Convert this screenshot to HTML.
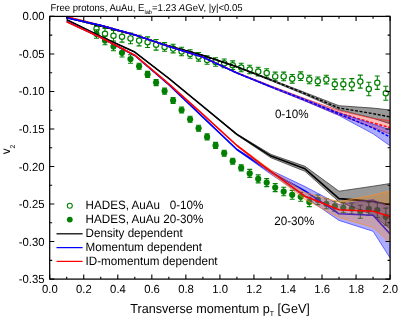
<!DOCTYPE html>
<html><head><meta charset="utf-8"><style>
html,body{margin:0;padding:0;background:#fff;}
svg{display:block;}
text{font-family:"Liberation Sans",sans-serif;fill:#000;text-rendering:geometricPrecision;}

html{-webkit-font-smoothing:antialiased;}
svg{will-change:transform;}
.t{font-size:11.3px;}
.l{font-size:11.65px;}
.ti{font-size:9.55px;}
.sub{font-size:5.7px;}
.sub2{font-size:7px;}.sub3{font-size:6.7px;}
.xl{font-size:12.6px;}
.yl{font-size:11.8px;}
</style></head><body>
<svg width="415" height="321" viewBox="0 0 415 321">
<defs><clipPath id="c"><rect x="49.7" y="16.4" width="340.4" height="262.7"/></clipPath></defs>
<rect width="415" height="321" fill="#fff"/>
<g clip-path="url(#c)">
<path d="M96.5 25.5V31.9M94.0 25.5h5M94.0 31.9h5" stroke="#008000" stroke-width="1.1" fill="none"/>
<circle cx="96.5" cy="28.7" r="2.65" fill="#fff" stroke="#008000" stroke-width="1.2"/>
<path d="M105.0 28.5V39.1M102.5 28.5h5M102.5 39.1h5" stroke="#008000" stroke-width="1.1" fill="none"/>
<circle cx="105.0" cy="33.8" r="2.65" fill="#fff" stroke="#008000" stroke-width="1.2"/>
<path d="M113.5 30.4V41.0M111.0 30.4h5M111.0 41.0h5" stroke="#008000" stroke-width="1.1" fill="none"/>
<circle cx="113.5" cy="35.7" r="2.65" fill="#fff" stroke="#008000" stroke-width="1.2"/>
<path d="M122.0 31.5V42.1M119.5 31.5h5M119.5 42.1h5" stroke="#008000" stroke-width="1.1" fill="none"/>
<circle cx="122.0" cy="36.8" r="2.65" fill="#fff" stroke="#008000" stroke-width="1.2"/>
<path d="M130.5 33.1V43.7M128.0 33.1h5M128.0 43.7h5" stroke="#008000" stroke-width="1.1" fill="none"/>
<circle cx="130.5" cy="38.4" r="2.65" fill="#fff" stroke="#008000" stroke-width="1.2"/>
<path d="M139.1 35.3V45.9M136.6 35.3h5M136.6 45.9h5" stroke="#008000" stroke-width="1.1" fill="none"/>
<circle cx="139.1" cy="40.6" r="2.65" fill="#fff" stroke="#008000" stroke-width="1.2"/>
<path d="M147.6 36.9V47.5M145.1 36.9h5M145.1 47.5h5" stroke="#008000" stroke-width="1.1" fill="none"/>
<circle cx="147.6" cy="42.2" r="2.65" fill="#fff" stroke="#008000" stroke-width="1.2"/>
<path d="M156.1 39.5V50.1M153.6 39.5h5M153.6 50.1h5" stroke="#008000" stroke-width="1.1" fill="none"/>
<circle cx="156.1" cy="44.8" r="2.65" fill="#fff" stroke="#008000" stroke-width="1.2"/>
<path d="M164.6 42.6V51.2M162.1 42.6h5M162.1 51.2h5" stroke="#008000" stroke-width="1.1" fill="none"/>
<circle cx="164.6" cy="46.9" r="2.65" fill="#fff" stroke="#008000" stroke-width="1.2"/>
<path d="M173.1 44.3V52.9M170.6 44.3h5M170.6 52.9h5" stroke="#008000" stroke-width="1.1" fill="none"/>
<circle cx="173.1" cy="48.6" r="2.65" fill="#fff" stroke="#008000" stroke-width="1.2"/>
<path d="M181.6 47.2V55.8M179.1 47.2h5M179.1 55.8h5" stroke="#008000" stroke-width="1.1" fill="none"/>
<circle cx="181.6" cy="51.5" r="2.65" fill="#fff" stroke="#008000" stroke-width="1.2"/>
<path d="M190.1 49.7V58.3M187.6 49.7h5M187.6 58.3h5" stroke="#008000" stroke-width="1.1" fill="none"/>
<circle cx="190.1" cy="54.0" r="2.65" fill="#fff" stroke="#008000" stroke-width="1.2"/>
<path d="M198.6 52.5V61.1M196.1 52.5h5M196.1 61.1h5" stroke="#008000" stroke-width="1.1" fill="none"/>
<circle cx="198.6" cy="56.8" r="2.65" fill="#fff" stroke="#008000" stroke-width="1.2"/>
<path d="M207.1 55.7V64.3M204.6 55.7h5M204.6 64.3h5" stroke="#008000" stroke-width="1.1" fill="none"/>
<circle cx="207.1" cy="60.0" r="2.65" fill="#fff" stroke="#008000" stroke-width="1.2"/>
<path d="M215.6 57.7V66.3M213.1 57.7h5M213.1 66.3h5" stroke="#008000" stroke-width="1.1" fill="none"/>
<circle cx="215.6" cy="62.0" r="2.65" fill="#fff" stroke="#008000" stroke-width="1.2"/>
<path d="M224.2 59.0V67.6M221.7 59.0h5M221.7 67.6h5" stroke="#008000" stroke-width="1.1" fill="none"/>
<circle cx="224.2" cy="63.3" r="2.65" fill="#fff" stroke="#008000" stroke-width="1.2"/>
<path d="M232.7 60.9V69.5M230.2 60.9h5M230.2 69.5h5" stroke="#008000" stroke-width="1.1" fill="none"/>
<circle cx="232.7" cy="65.2" r="2.65" fill="#fff" stroke="#008000" stroke-width="1.2"/>
<path d="M241.2 63.2V71.8M238.7 63.2h5M238.7 71.8h5" stroke="#008000" stroke-width="1.1" fill="none"/>
<circle cx="241.2" cy="67.5" r="2.65" fill="#fff" stroke="#008000" stroke-width="1.2"/>
<path d="M249.7 65.2V73.8M247.2 65.2h5M247.2 73.8h5" stroke="#008000" stroke-width="1.1" fill="none"/>
<circle cx="249.7" cy="69.5" r="2.65" fill="#fff" stroke="#008000" stroke-width="1.2"/>
<path d="M258.2 67.3V75.9M255.7 67.3h5M255.7 75.9h5" stroke="#008000" stroke-width="1.1" fill="none"/>
<circle cx="258.2" cy="71.6" r="2.65" fill="#fff" stroke="#008000" stroke-width="1.2"/>
<path d="M266.7 68.7V77.3M264.2 68.7h5M264.2 77.3h5" stroke="#008000" stroke-width="1.1" fill="none"/>
<circle cx="266.7" cy="73.0" r="2.65" fill="#fff" stroke="#008000" stroke-width="1.2"/>
<path d="M275.2 72.1V80.7M272.7 72.1h5M272.7 80.7h5" stroke="#008000" stroke-width="1.1" fill="none"/>
<circle cx="275.2" cy="76.4" r="2.65" fill="#fff" stroke="#008000" stroke-width="1.2"/>
<path d="M283.7 72.1V80.7M281.2 72.1h5M281.2 80.7h5" stroke="#008000" stroke-width="1.1" fill="none"/>
<circle cx="283.7" cy="76.4" r="2.65" fill="#fff" stroke="#008000" stroke-width="1.2"/>
<path d="M292.2 74.5V83.1M289.7 74.5h5M289.7 83.1h5" stroke="#008000" stroke-width="1.1" fill="none"/>
<circle cx="292.2" cy="78.8" r="2.65" fill="#fff" stroke="#008000" stroke-width="1.2"/>
<path d="M300.7 71.9V80.5M298.2 71.9h5M298.2 80.5h5" stroke="#008000" stroke-width="1.1" fill="none"/>
<circle cx="300.7" cy="76.2" r="2.65" fill="#fff" stroke="#008000" stroke-width="1.2"/>
<path d="M309.3 75.2V83.8M306.8 75.2h5M306.8 83.8h5" stroke="#008000" stroke-width="1.1" fill="none"/>
<circle cx="309.3" cy="79.5" r="2.65" fill="#fff" stroke="#008000" stroke-width="1.2"/>
<path d="M317.8 77.0V85.6M315.3 77.0h5M315.3 85.6h5" stroke="#008000" stroke-width="1.1" fill="none"/>
<circle cx="317.8" cy="81.3" r="2.65" fill="#fff" stroke="#008000" stroke-width="1.2"/>
<path d="M326.3 75.3V83.9M323.8 75.3h5M323.8 83.9h5" stroke="#008000" stroke-width="1.1" fill="none"/>
<circle cx="326.3" cy="79.6" r="2.65" fill="#fff" stroke="#008000" stroke-width="1.2"/>
<path d="M334.8 79.1V89.5M332.3 79.1h5M332.3 89.5h5" stroke="#008000" stroke-width="1.1" fill="none"/>
<circle cx="334.8" cy="84.3" r="2.65" fill="#fff" stroke="#008000" stroke-width="1.2"/>
<path d="M343.3 78.8V89.8M340.8 78.8h5M340.8 89.8h5" stroke="#008000" stroke-width="1.1" fill="none"/>
<circle cx="343.3" cy="84.3" r="2.65" fill="#fff" stroke="#008000" stroke-width="1.2"/>
<path d="M351.8 78.6V90.6M349.3 78.6h5M349.3 90.6h5" stroke="#008000" stroke-width="1.1" fill="none"/>
<circle cx="351.8" cy="84.6" r="2.65" fill="#fff" stroke="#008000" stroke-width="1.2"/>
<path d="M360.3 75.1V88.1M357.8 75.1h5M357.8 88.1h5" stroke="#008000" stroke-width="1.1" fill="none"/>
<circle cx="360.3" cy="81.6" r="2.65" fill="#fff" stroke="#008000" stroke-width="1.2"/>
<path d="M368.8 82.3V95.7M366.3 82.3h5M366.3 95.7h5" stroke="#008000" stroke-width="1.1" fill="none"/>
<circle cx="368.8" cy="89.0" r="2.65" fill="#fff" stroke="#008000" stroke-width="1.2"/>
<path d="M377.3 76.0V89.4M374.8 76.0h5M374.8 89.4h5" stroke="#008000" stroke-width="1.1" fill="none"/>
<circle cx="377.3" cy="82.7" r="2.65" fill="#fff" stroke="#008000" stroke-width="1.2"/>
<path d="M385.8 86.2V100.2M383.3 86.2h5M383.3 100.2h5" stroke="#008000" stroke-width="1.1" fill="none"/>
<circle cx="385.8" cy="93.2" r="2.65" fill="#fff" stroke="#008000" stroke-width="1.2"/>
<path d="M96.5 29.8V38.2M94.0 29.8h5M94.0 38.2h5" stroke="#008000" stroke-width="1.1" fill="none"/>
<circle cx="96.5" cy="34.0" r="3.1" fill="#008000"/>
<path d="M105.0 36.3V44.7M102.5 36.3h5M102.5 44.7h5" stroke="#008000" stroke-width="1.1" fill="none"/>
<circle cx="105.0" cy="40.5" r="3.1" fill="#008000"/>
<path d="M113.5 42.3V50.7M111.0 42.3h5M111.0 50.7h5" stroke="#008000" stroke-width="1.1" fill="none"/>
<circle cx="113.5" cy="46.5" r="3.1" fill="#008000"/>
<path d="M122.0 48.6V57.0M119.5 48.6h5M119.5 57.0h5" stroke="#008000" stroke-width="1.1" fill="none"/>
<circle cx="122.0" cy="52.8" r="3.1" fill="#008000"/>
<path d="M130.5 54.8V63.2M128.0 54.8h5M128.0 63.2h5" stroke="#008000" stroke-width="1.1" fill="none"/>
<circle cx="130.5" cy="59.0" r="3.1" fill="#008000"/>
<path d="M139.1 63.3V69.3M136.6 63.3h5M136.6 69.3h5" stroke="#008000" stroke-width="1.1" fill="none"/>
<circle cx="139.1" cy="66.3" r="3.1" fill="#008000"/>
<path d="M147.6 71.4V77.4M145.1 71.4h5M145.1 77.4h5" stroke="#008000" stroke-width="1.1" fill="none"/>
<circle cx="147.6" cy="74.4" r="3.1" fill="#008000"/>
<path d="M156.1 79.6V85.6M153.6 79.6h5M153.6 85.6h5" stroke="#008000" stroke-width="1.1" fill="none"/>
<circle cx="156.1" cy="82.6" r="3.1" fill="#008000"/>
<path d="M164.6 88.1V94.1M162.1 88.1h5M162.1 94.1h5" stroke="#008000" stroke-width="1.1" fill="none"/>
<circle cx="164.6" cy="91.1" r="3.1" fill="#008000"/>
<path d="M173.1 97.5V103.5M170.6 97.5h5M170.6 103.5h5" stroke="#008000" stroke-width="1.1" fill="none"/>
<circle cx="173.1" cy="100.5" r="3.1" fill="#008000"/>
<path d="M181.6 107.0V113.0M179.1 107.0h5M179.1 113.0h5" stroke="#008000" stroke-width="1.1" fill="none"/>
<circle cx="181.6" cy="110.0" r="3.1" fill="#008000"/>
<path d="M190.1 116.3V122.3M187.6 116.3h5M187.6 122.3h5" stroke="#008000" stroke-width="1.1" fill="none"/>
<circle cx="190.1" cy="119.3" r="3.1" fill="#008000"/>
<path d="M198.6 125.3V131.3M196.1 125.3h5M196.1 131.3h5" stroke="#008000" stroke-width="1.1" fill="none"/>
<circle cx="198.6" cy="128.3" r="3.1" fill="#008000"/>
<path d="M207.1 133.9V139.9M204.6 133.9h5M204.6 139.9h5" stroke="#008000" stroke-width="1.1" fill="none"/>
<circle cx="207.1" cy="136.9" r="3.1" fill="#008000"/>
<path d="M215.6 142.4V148.4M213.1 142.4h5M213.1 148.4h5" stroke="#008000" stroke-width="1.1" fill="none"/>
<circle cx="215.6" cy="145.4" r="3.1" fill="#008000"/>
<path d="M224.2 150.2V156.2M221.7 150.2h5M221.7 156.2h5" stroke="#008000" stroke-width="1.1" fill="none"/>
<circle cx="224.2" cy="153.2" r="3.1" fill="#008000"/>
<path d="M232.7 158.2V164.2M230.2 158.2h5M230.2 164.2h5" stroke="#008000" stroke-width="1.1" fill="none"/>
<circle cx="232.7" cy="161.2" r="3.1" fill="#008000"/>
<path d="M241.2 164.9V170.9M238.7 164.9h5M238.7 170.9h5" stroke="#008000" stroke-width="1.1" fill="none"/>
<circle cx="241.2" cy="167.9" r="3.1" fill="#008000"/>
<path d="M249.7 169.4V177.4M247.2 169.4h5M247.2 177.4h5" stroke="#008000" stroke-width="1.1" fill="none"/>
<circle cx="249.7" cy="173.4" r="3.1" fill="#008000"/>
<path d="M258.2 174.9V182.9M255.7 174.9h5M255.7 182.9h5" stroke="#008000" stroke-width="1.1" fill="none"/>
<circle cx="258.2" cy="178.9" r="3.1" fill="#008000"/>
<path d="M266.7 178.6V186.6M264.2 178.6h5M264.2 186.6h5" stroke="#008000" stroke-width="1.1" fill="none"/>
<circle cx="266.7" cy="182.6" r="3.1" fill="#008000"/>
<path d="M275.2 183.6V191.6M272.7 183.6h5M272.7 191.6h5" stroke="#008000" stroke-width="1.1" fill="none"/>
<circle cx="275.2" cy="187.6" r="3.1" fill="#008000"/>
<path d="M283.7 187.3V195.7M281.2 187.3h5M281.2 195.7h5" stroke="#008000" stroke-width="1.1" fill="none"/>
<circle cx="283.7" cy="191.5" r="3.1" fill="#008000"/>
<path d="M292.2 190.4V199.2M289.7 190.4h5M289.7 199.2h5" stroke="#008000" stroke-width="1.1" fill="none"/>
<circle cx="292.2" cy="194.8" r="3.1" fill="#008000"/>
<path d="M300.7 192.4V201.2M298.2 192.4h5M298.2 201.2h5" stroke="#008000" stroke-width="1.1" fill="none"/>
<circle cx="300.7" cy="196.8" r="3.1" fill="#008000"/>
<path d="M309.3 197.2V206.6M306.8 197.2h5M306.8 206.6h5" stroke="#008000" stroke-width="1.1" fill="none"/>
<circle cx="309.3" cy="201.9" r="3.1" fill="#008000"/>
<path d="M317.8 195.0V204.6M315.3 195.0h5M315.3 204.6h5" stroke="#008000" stroke-width="1.1" fill="none"/>
<circle cx="317.8" cy="199.8" r="3.1" fill="#008000"/>
<path d="M326.3 198.8V208.8M323.8 198.8h5M323.8 208.8h5" stroke="#008000" stroke-width="1.1" fill="none"/>
<circle cx="326.3" cy="203.8" r="3.1" fill="#008000"/>
<path d="M334.8 201.2V211.2M332.3 201.2h5M332.3 211.2h5" stroke="#008000" stroke-width="1.1" fill="none"/>
<circle cx="334.8" cy="206.2" r="3.1" fill="#008000"/>
<path d="M343.3 202.8V212.8M340.8 202.8h5M340.8 212.8h5" stroke="#008000" stroke-width="1.1" fill="none"/>
<circle cx="343.3" cy="207.8" r="3.1" fill="#008000"/>
<path d="M351.8 203.0V214.0M349.3 203.0h5M349.3 214.0h5" stroke="#008000" stroke-width="1.1" fill="none"/>
<circle cx="351.8" cy="208.5" r="3.1" fill="#008000"/>
<path d="M360.3 205.3V218.3M357.8 205.3h5M357.8 218.3h5" stroke="#008000" stroke-width="1.1" fill="none"/>
<circle cx="360.3" cy="211.8" r="3.1" fill="#008000"/>
<path d="M368.8 202.1V215.5M366.3 202.1h5M366.3 215.5h5" stroke="#008000" stroke-width="1.1" fill="none"/>
<circle cx="368.8" cy="208.8" r="3.1" fill="#008000"/>
<path d="M377.3 202.7V217.5M374.8 202.7h5M374.8 217.5h5" stroke="#008000" stroke-width="1.1" fill="none"/>
<circle cx="377.3" cy="210.1" r="3.1" fill="#008000"/>
<path d="M385.8 208.1V225.3M383.3 208.1h5M383.3 225.3h5" stroke="#008000" stroke-width="1.1" fill="none"/>
<circle cx="385.8" cy="216.7" r="3.1" fill="#008000"/>
<polygon points="66.7,17.2 100.8,25.7 134.8,34.7 168.8,45.7 202.9,55.0 236.9,66.3 271.0,79.3 305.0,92.5 339.0,105.7 373.1,108.1 390.1,110.0 390.1,123.8 373.1,118.2 339.0,109.8 305.0,94.7 271.0,80.7 236.9,67.3 202.9,55.6 168.8,46.3 134.8,35.3 100.8,26.3 66.7,17.8" fill="rgba(0,0,0,0.40)" stroke="#1a1a1a" stroke-width="0.65" stroke-linejoin="round"/>
<polyline points="66.7,17.5 100.8,26.0 134.8,35.0 168.8,46.0 202.9,55.3 236.9,66.8" fill="none" stroke="#000" stroke-width="1.3"/><polyline points="236.9,66.8 271.0,80.0" fill="none" stroke="#000" stroke-width="0.8"/>
<polyline points="66.7,17.5 100.8,26.0 134.8,35.0 168.8,46.0 202.9,55.3 236.9,66.8 271.0,80.0 305.0,93.6 339.0,108.0 373.1,113.6 390.1,117.0" fill="none" stroke="#000" stroke-width="1.45" stroke-dasharray="3 1.6" stroke-linejoin="round"/>
<polygon points="66.7,16.6 100.8,25.0 134.8,34.5 168.8,46.2 202.9,56.9 236.9,72.4 271.0,85.9 305.0,98.6 339.0,110.6 373.1,118.5 390.1,120.5 390.1,134.0 373.1,127.5 339.0,115.0 305.0,101.0 271.0,87.3 236.9,73.2 202.9,57.5 168.8,46.8 134.8,35.1 100.8,25.6 66.7,17.2" fill="rgba(255,0,0,0.27)" stroke="#ff2020" stroke-width="0.65" stroke-linejoin="round"/>
<polyline points="66.7,16.9 100.8,25.3 134.8,34.8 168.8,46.5 202.9,57.2 236.9,72.8" fill="none" stroke="#ff0000" stroke-width="1.3"/><polyline points="236.9,72.8 271.0,86.6" fill="none" stroke="#ff0000" stroke-width="0.8"/>
<polyline points="66.7,16.9 100.8,25.3 134.8,34.8 168.8,46.5 202.9,57.2 236.9,72.8 271.0,86.6 305.0,99.8 339.0,112.9 373.1,123.1 390.1,127.5" fill="none" stroke="#ff0000" stroke-width="1.45" stroke-dasharray="3 1.6" stroke-linejoin="round"/>
<polygon points="66.7,17.6 100.8,25.0 134.8,34.5 168.8,46.2 202.9,56.9 236.9,72.6 271.0,86.2 305.0,99.2 339.0,112.8 373.1,124.2 390.1,129.8 390.1,145.8 373.1,133.8 339.0,115.5 305.0,101.0 271.0,87.4 236.9,73.4 202.9,57.5 168.8,46.8 134.8,35.1 100.8,25.6 66.7,18.2" fill="rgba(0,0,255,0.32)" stroke="#2828ff" stroke-width="0.65" stroke-linejoin="round"/>
<polyline points="66.7,17.9 100.8,25.3 134.8,34.8 168.8,46.5 202.9,57.2 236.9,73.0" fill="none" stroke="#0000ff" stroke-width="1.3"/><polyline points="236.9,73.0 271.0,86.8" fill="none" stroke="#0000ff" stroke-width="0.8"/>
<polyline points="66.7,17.9 100.8,25.3 134.8,34.8 168.8,46.5 202.9,57.2 236.9,73.0 271.0,86.8 305.0,100.0 339.0,113.9 373.1,128.1 390.1,137.0" fill="none" stroke="#0000ff" stroke-width="1.45" stroke-dasharray="3 1.6" stroke-linejoin="round"/>
<polygon points="66.7,19.7 100.8,36.4 134.8,52.1 168.8,78.3 202.9,106.2 236.9,133.9 271.0,154.4 305.0,166.3 339.0,191.2 373.1,186.2 390.1,183.5 390.1,229.0 373.1,215.0 339.0,201.8 305.0,171.3 271.0,157.8 236.9,134.9 202.9,106.6 168.8,78.3 134.8,52.1 100.8,36.4 66.7,19.7" fill="rgba(0,0,0,0.40)" stroke="#1a1a1a" stroke-width="0.65" stroke-linejoin="round"/>
<polyline points="66.7,19.7 100.8,36.4 134.8,52.1 168.8,78.3 202.9,106.4 236.9,134.4 271.0,156.1 305.0,168.8 339.0,198.6 373.1,201.4 390.1,205.0" fill="none" stroke="#000" stroke-width="1.6" stroke-linejoin="round"/>
<polygon points="66.7,21.5 100.8,37.5 134.8,55.5 168.8,84.6 202.9,116.8 236.9,149.0 271.0,170.3 305.0,186.6 339.0,204.5 373.1,199.5 390.1,207.8 390.1,258.0 373.1,231.3 339.0,220.4 305.0,197.0 271.0,174.3 236.9,150.0 202.9,117.6 168.8,84.6 134.8,55.5 100.8,37.5 66.7,21.5" fill="rgba(0,0,255,0.32)" stroke="#2828ff" stroke-width="0.65" stroke-linejoin="round"/>
<polyline points="66.7,21.5 100.8,37.5 134.8,55.5 168.8,84.6 202.9,117.2 236.9,149.5 271.0,172.3 305.0,191.0 339.0,213.8 373.1,215.3 390.1,234.0" fill="none" stroke="#0000ff" stroke-width="1.6" stroke-linejoin="round"/>
<polygon points="66.7,21.7 100.8,37.5 134.8,55.2 168.8,83.8 202.9,114.0 236.9,145.0 271.0,170.0 305.0,192.5 339.0,201.8 373.1,195.0 390.1,191.0 390.1,243.0 373.1,227.4 339.0,217.5 305.0,199.5 271.0,173.4 236.9,146.0 202.9,114.6 168.8,83.8 134.8,55.2 100.8,37.5 66.7,21.7" fill="rgba(255,128,0,0.30)" stroke="#ff9020" stroke-width="0.65" stroke-linejoin="round"/>
<polyline points="66.7,21.7 100.8,37.5 134.8,55.2 168.8,83.8 202.9,114.3 236.9,145.5 271.0,171.6 305.0,196.2 339.0,209.7 373.1,211.3 390.1,216.6" fill="none" stroke="#ff0000" stroke-width="1.6" stroke-linejoin="round"/>
</g>
<path d="M49.70 279.1v-4.5 M49.70 16.4v4.5 M66.72 279.1v-2.4 M66.72 16.4v2.4 M83.74 279.1v-4.5 M83.74 16.4v4.5 M100.76 279.1v-2.4 M100.76 16.4v2.4 M117.78 279.1v-4.5 M117.78 16.4v4.5 M134.80 279.1v-2.4 M134.80 16.4v2.4 M151.82 279.1v-4.5 M151.82 16.4v4.5 M168.84 279.1v-2.4 M168.84 16.4v2.4 M185.86 279.1v-4.5 M185.86 16.4v4.5 M202.88 279.1v-2.4 M202.88 16.4v2.4 M219.90 279.1v-4.5 M219.90 16.4v4.5 M236.92 279.1v-2.4 M236.92 16.4v2.4 M253.94 279.1v-4.5 M253.94 16.4v4.5 M270.96 279.1v-2.4 M270.96 16.4v2.4 M287.98 279.1v-4.5 M287.98 16.4v4.5 M305.00 279.1v-2.4 M305.00 16.4v2.4 M322.02 279.1v-4.5 M322.02 16.4v4.5 M339.04 279.1v-2.4 M339.04 16.4v2.4 M356.06 279.1v-4.5 M356.06 16.4v4.5 M373.08 279.1v-2.4 M373.08 16.4v2.4 M390.10 279.1v-4.5 M390.10 16.4v4.5 M49.7 16.40h4.6 M390.1 16.40h-4.6 M49.7 35.16h2.5 M390.1 35.16h-2.5 M49.7 53.93h4.6 M390.1 53.93h-4.6 M49.7 72.69h2.5 M390.1 72.69h-2.5 M49.7 91.46h4.6 M390.1 91.46h-4.6 M49.7 110.22h2.5 M390.1 110.22h-2.5 M49.7 128.99h4.6 M390.1 128.99h-4.6 M49.7 147.75h2.5 M390.1 147.75h-2.5 M49.7 166.51h4.6 M390.1 166.51h-4.6 M49.7 185.28h2.5 M390.1 185.28h-2.5 M49.7 204.04h4.6 M390.1 204.04h-4.6 M49.7 222.81h2.5 M390.1 222.81h-2.5 M49.7 241.57h4.6 M390.1 241.57h-4.6 M49.7 260.34h2.5 M390.1 260.34h-2.5 M49.7 279.10h4.6 M390.1 279.10h-4.6" stroke="#000" stroke-width="1.1" fill="none"/>
<rect x="49.7" y="16.4" width="340.4" height="262.7" fill="none" stroke="#000" stroke-width="1.25"/>
<g class="tx">
<text transform="translate(49.90,293.00) scale(1,1.04)" text-anchor="middle" class="t">0.0</text>
<text transform="translate(83.94,293.00) scale(1,1.04)" text-anchor="middle" class="t">0.2</text>
<text transform="translate(117.98,293.00) scale(1,1.04)" text-anchor="middle" class="t">0.4</text>
<text transform="translate(152.02,293.00) scale(1,1.04)" text-anchor="middle" class="t">0.6</text>
<text transform="translate(186.06,293.00) scale(1,1.04)" text-anchor="middle" class="t">0.8</text>
<text transform="translate(220.10,293.00) scale(1,1.04)" text-anchor="middle" class="t">1.0</text>
<text transform="translate(254.14,293.00) scale(1,1.04)" text-anchor="middle" class="t">1.2</text>
<text transform="translate(288.18,293.00) scale(1,1.04)" text-anchor="middle" class="t">1.4</text>
<text transform="translate(322.22,293.00) scale(1,1.04)" text-anchor="middle" class="t">1.6</text>
<text transform="translate(356.26,293.00) scale(1,1.04)" text-anchor="middle" class="t">1.8</text>
<text transform="translate(390.30,293.00) scale(1,1.04)" text-anchor="middle" class="t">2.0</text>
<text transform="translate(44.50,20.40) scale(1,1.04)" text-anchor="end" class="t">0.00</text>
<text transform="translate(44.50,57.93) scale(1,1.04)" text-anchor="end" class="t">-0.05</text>
<text transform="translate(44.50,95.46) scale(1,1.04)" text-anchor="end" class="t">-0.10</text>
<text transform="translate(44.50,132.99) scale(1,1.04)" text-anchor="end" class="t">-0.15</text>
<text transform="translate(44.50,170.51) scale(1,1.04)" text-anchor="end" class="t">-0.20</text>
<text transform="translate(44.50,208.04) scale(1,1.04)" text-anchor="end" class="t">-0.25</text>
<text transform="translate(44.50,245.57) scale(1,1.04)" text-anchor="end" class="t">-0.30</text>
<text transform="translate(44.50,283.10) scale(1,1.04)" text-anchor="end" class="t">-0.35</text>
<circle cx="69.8" cy="205.8" r="2.5" fill="#fff" stroke="#008000" stroke-width="1.1"/>
<circle cx="69.8" cy="219.6" r="2.9" fill="#008000"/>
<path d="M56.5 233.8H82.6" stroke="#000" stroke-width="1.25"/>
<path d="M56.5 247.6H82.6" stroke="#0000ff" stroke-width="1.25"/>
<path d="M56.5 261.4H82.6" stroke="#ff0000" stroke-width="1.25"/>
<text transform="translate(85.60,209.40) scale(1,1.04)" class="l" xml:space="preserve">HADES, AuAu   0-10%</text>
<text transform="translate(85.60,223.20) scale(1,1.04)" class="l" xml:space="preserve">HADES, AuAu 20-30%</text>
<text transform="translate(85.60,237.30) scale(1,1.04)" class="l" xml:space="preserve">Density dependent</text>
<text transform="translate(85.60,251.20) scale(1,1.04)" class="l" xml:space="preserve">Momentum dependent</text>
<text transform="translate(85.60,265.10) scale(1,1.04)" class="l" xml:space="preserve">ID-momentum dependent</text>
<text transform="translate(274.90,117.60) scale(1,1.04)" class="l">0-10%</text>
<text transform="translate(274.30,225.30) scale(1,1.04)" class="l">20-30%</text>
<text transform="translate(50.50,11.20) scale(1,1.04)" class="ti">Free protons, AuAu, E<tspan class="sub" dy="2.3">lab</tspan><tspan dy="-2.3">=1.23 </tspan><tspan font-style="italic">A</tspan>GeV, |y|&lt;0.05</text>
<text transform="translate(130.30,313.20) scale(1,1.04)" class="xl">Transverse momentum p<tspan class="sub2" dy="2.8">T</tspan><tspan dy="-2.8"> [GeV]</tspan></text>
<text transform="translate(10.4,154.3) rotate(-90) scale(1,1.04)" class="yl">v<tspan class="sub3" dy="4.5">2</tspan></text>
</g>
</svg>
</body></html>
